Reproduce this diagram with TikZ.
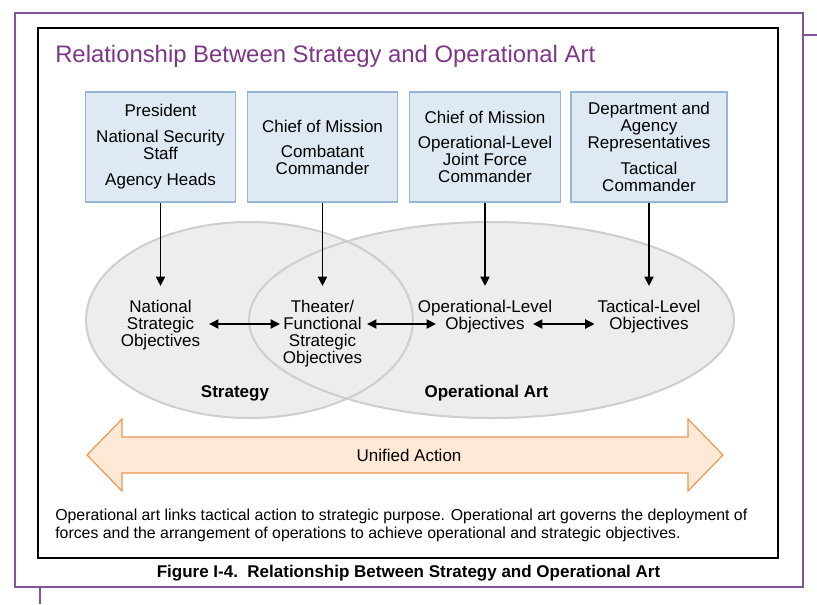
\documentclass[tikz,border=0pt]{standalone}
\usepackage{fontspec}
\setmainfont{Liberation Sans}
\usetikzlibrary{arrows.meta}

\definecolor{titlepurple}{RGB}{125,55,135}
\definecolor{framepurple}{RGB}{125,85,155}
\definecolor{boxblue}{RGB}{222,233,244}
\definecolor{boxedge}{RGB}{150,182,215}
\definecolor{realmgray}{RGB}{237,237,237}
\definecolor{realmedge}{RGB}{206,206,206}
\definecolor{bandfill}{RGB}{253,233,214}
\definecolor{bandedge}{RGB}{240,150,82}

\tikzset{
  txt/.style={font=\fontsize{12.75pt}{12.75pt}\selectfont, align=center},
  role/.style={txt, draw=boxedge, fill=boxblue, line width=0.8pt,
    minimum width=113pt, minimum height=82.5pt, inner sep=1pt},
  goal/.style={txt, inner sep=2pt, anchor=north},
  feed/.style={-{Triangle[length=7pt,width=6.75pt]}, line width=1.4pt, shorten >=8.25pt},
  link/.style={{Triangle[length=7pt,width=6.75pt]}-{Triangle[length=7pt,width=6.75pt]}, line width=1.4pt},
  realm/.style={draw=realmedge, line width=1.5pt},
  tag/.style={font=\bfseries\fontsize{12.75pt}{12.75pt}\selectfont}
}

\begin{document}
\begin{tikzpicture}[x=0.75pt, y=-0.75pt]
        \useasboundingbox (0,0) rectangle (817,604);
        % page frame
        \draw[framepurple, line width=1.1pt] (15,13) rectangle (803,587);
        \draw[framepurple, line width=1.1pt] (803,35) -- (817,35);
        \draw[framepurple, line width=1.1pt] (40,587) -- (40,604);
        \draw[line width=1.5pt, fill=white] (38,28) rectangle (778,558);
        \node[anchor=base west, inner sep=0pt, text=titlepurple, font=\fontsize{17.9pt}{18pt}\selectfont] (title) at (55,62) {Relationship Between Strategy and Operational Art};

        % the two realms
        \fill[realmgray] (249.5,320) ellipse [x radius=122.6pt, y radius=73.5pt];
        \fill[realmgray] (491.5,320) ellipse [x radius=181.9pt, y radius=73.5pt];
        \draw[realm] (249.5,320) ellipse [x radius=122.6pt, y radius=73.5pt];
        \draw[realm] (491.5,320) ellipse [x radius=181.9pt, y radius=73.5pt];

        \node[role] (pres) at (160.5,147) {President\\[6.75pt]National Security\\Staff\\[6.75pt]Agency Heads};
        \node[role] (ccdr) at (322.5,147) {Chief of Mission\\[6pt]Combatant\\Commander};
        \node[role] (jfc) at (485,147) {Chief of Mission\\[6pt]Operational-Level\\Joint Force\\Commander};
        \node[role, minimum width=117pt] (tac) at (649,147) {Department and\\Agency\\Representatives\\[6.75pt]Tactical\\Commander};

        \node[goal] (nat) at (160.5,297) {National\\Strategic\\Objectives};
        \node[goal] (thr) at (322.5,297) {Theater/\\Functional\\Strategic\\Objectives};
        \node[goal] (opl) at (485,297) {Operational-Level\\Objectives};
        \node[goal] (tcl) at (649,297) {Tactical-Level\\Objectives};

        \draw[feed] (pres) -- (nat);
        \draw[feed] (ccdr) -- (thr);
        \draw[feed] (jfc) -- (opl);
        \draw[feed] (tac) -- (tcl);

        \coordinate (lvl) at (0,324);
        \draw[link, shorten <=4.5pt] (nat.east |- lvl) -- (thr.west |- lvl);
        \draw[link, shorten <=1.5pt, shorten >=-15.75pt] (thr.east |- lvl) -- (opl.west |- lvl);
        \draw[link, shorten <=-16.5pt] (opl.east |- lvl) -- (tcl.west |- lvl);

        \node[tag] (strat) at (235,393.5) {Strategy};
        \node[tag] (opart) at (486.5,393.5) {Operational Art};

        % unified action band
        \filldraw[fill=bandfill, draw=bandedge, line width=0.9pt]
          (87,455) -- (122,419) -- (122,437) -- (688,437) -- (688,419) -- (723,455)
          -- (688,491) -- (688,473) -- (122,473) -- (122,491) -- cycle;
        \node[txt] (ua) at (409,455.5) {Unified Action};

        \node[anchor=north west, align=left, inner sep=0pt, font=\fontsize{11.9pt}{13.9pt}\selectfont] (note) at (55,508.3)
          {Operational art links tactical action to strategic purpose. Operational art governs the deployment of\\
           forces and the arrangement of operations to achieve operational and strategic objectives.};
        \node[tag] (cap) at (408.5,573) {Figure I-4.\ \ Relationship Between Strategy and Operational Art};
\end{tikzpicture}
\end{document}
